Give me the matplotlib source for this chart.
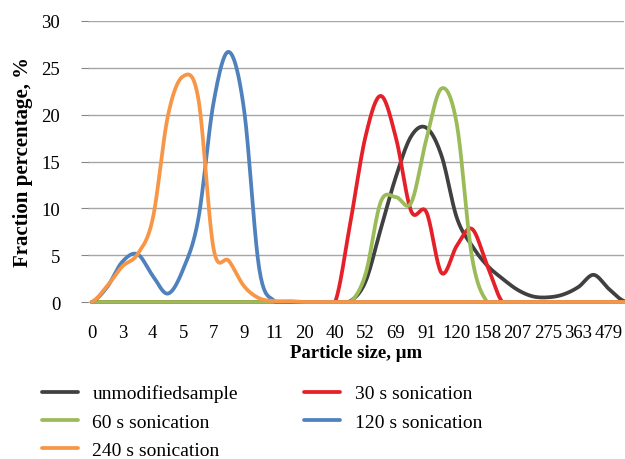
import numpy as np
import matplotlib
matplotlib.use("Agg")
import matplotlib.pyplot as plt

# Category axis: 36 size classes, every second one labelled
tick_labels = ["0", "3", "4", "5", "7", "9", "11", "20", "40", "52", "69",
               "91", "120", "158", "207", "275", "363", "479"]
n_cat = 36

unmodified = [0, 0, 0, 0, 0, 0, 0, 0, 0, 0, 0, 0, 0, 0, 0, 0, 0, 0.1,
              2.2, 7.8, 13.4, 17.7, 18.6, 15.6, 9.0, 6.0, 3.9, 2.5, 1.3,
              0.6, 0.5, 0.8, 1.6, 2.9, 1.4, 0.1]
son30 = [0, 0, 0, 0, 0, 0, 0, 0, 0, 0, 0, 0, 0, 0, 0, 0, 0, 8.5,
         17.7, 22.0, 17.5, 9.7, 9.6, 3.1, 6.0, 7.8, 3.9, 0, 0,
         0, 0, 0, 0, 0, 0, 0]
son60 = [0, 0, 0, 0, 0, 0, 0, 0, 0, 0, 0, 0, 0, 0, 0, 0, 0, 0,
         3.0, 10.7, 11.2, 10.6, 17.4, 22.8, 19.0, 4.8, 0, 0, 0,
         0, 0, 0, 0, 0, 0, 0]
son120 = [0, 1.6, 4.3, 5.1, 2.8, 0.9, 3.5, 8.9, 21.3, 26.7, 20.6, 3.6,
          0.1, 0, 0, 0, 0, 0, 0, 0, 0, 0, 0, 0, 0, 0, 0, 0, 0,
          0, 0, 0, 0, 0, 0, 0]
son240 = [0, 1.7, 3.8, 5.1, 8.9, 19.9, 24.1, 21.7, 5.7, 4.4, 1.7, 0.4,
          0.1, 0.1, 0, 0, 0, 0, 0, 0, 0, 0, 0, 0, 0, 0, 0, 0, 0,
          0, 0, 0, 0, 0, 0, 0]

series = [
    ("unmodifiedsample", unmodified, "#404040"),
    ("30 s sonication", son30, "#E52028"),
    ("60 s sonication", son60, "#9BBB59"),
    ("120 s sonication", son120, "#4F81BD"),
    ("240 s sonication", son240, "#F79646"),
]


def smooth(x, y, steps=20):
    """Catmull-Rom smoothing through the data points (Excel-like smoothed line)."""
    x = np.asarray(x, float)
    y = np.asarray(y, float)
    px = np.concatenate([[2 * x[0] - x[1]], x, [2 * x[-1] - x[-2]]])
    py = np.concatenate([[y[0]], y, [y[-1]]])
    xs, ys = [], []
    for i in range(1, len(px) - 2):
        t = np.linspace(0, 1, steps, endpoint=False)
        for arr, out in ((px, xs), (py, ys)):
            p0, p1, p2, p3 = arr[i - 1], arr[i], arr[i + 1], arr[i + 2]
            out.append(0.5 * ((2 * p1) + (-p0 + p2) * t +
                              (2 * p0 - 5 * p1 + 4 * p2 - p3) * t ** 2 +
                              (-p0 + 3 * p1 - 3 * p2 + p3) * t ** 3))
    xs.append([x[-1]])
    ys.append([y[-1]])
    return np.concatenate(xs), np.maximum(np.concatenate(ys), 0)


plt.rcParams["font.family"] = ["Liberation Serif", "DejaVu Serif"]

fig = plt.figure(figsize=(6.25, 4.6), dpi=100)
ax = fig.add_axes([88 / 625, 157 / 460, 536 / 625, 281 / 460])

x = np.arange(n_cat)
handles = {}
for name, vals, col in series:
    sx, sy = smooth(x, vals)
    ln, = ax.plot(sx, sy, color=col, lw=2.7, solid_capstyle="round",
                  clip_on=False, zorder=3)
    handles[name] = ln

ax.set_xlim(-0.26, 35.0)
ax.set_ylim(0, 30)
ax.set_yticks(np.arange(0, 31, 5))
ax.set_xticks(np.arange(0, n_cat - 1, 2))
ax.set_xticklabels(tick_labels)
ax.tick_params(axis="y", length=5, color="#868686", labelsize=13.5, pad=15)
ax.tick_params(axis="x", length=0, labelsize=13.5, pad=16)
ax.grid(axis="y", color="#A6A6A6", lw=1)
ax.set_axisbelow(True)
for s in ("left", "right", "top"):
    ax.spines[s].set_visible(False)
ax.spines["bottom"].set_color("#A6A6A6")

ax.set_ylabel("Fraction percentage, %", fontsize=15, fontweight="bold",
              labelpad=6)
ax.set_xlabel("Particle size, μm", fontsize=13.5, fontweight="bold",
              labelpad=2)

order = ["unmodifiedsample", "60 s sonication", "240 s sonication",
         "30 s sonication", "120 s sonication"]
fig.legend([handles[k] for k in order], order, ncol=2, frameon=False,
           loc="upper left", bbox_to_anchor=(0.067, 0.162),
           fontsize=14, handlelength=1.85, handletextpad=0.75,
           columnspacing=3.4, labelspacing=0.55, borderaxespad=0,
           borderpad=0)

fig.savefig("out.png", dpi=100)
